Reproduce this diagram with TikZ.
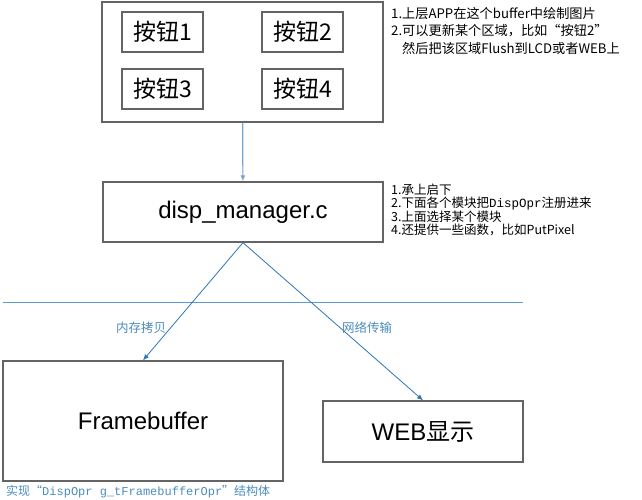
\documentclass[tikz,border=0pt]{standalone}
\usepackage{fontspec}
\setmainfont{Liberation Sans}
\setmonofont{Liberation Mono}
\newfontfamily\cjk{Noto Sans CJK SC}
\usetikzlibrary{arrows.meta,positioning}
\definecolor{boxgray}{RGB}{100,100,100}
\definecolor{linkblue}{RGB}{46,117,182}
\definecolor{toplink}{RGB}{120,165,205}
\definecolor{ruleblue}{RGB}{91,155,213}
\definecolor{labelblue}{RGB}{75,140,190}
\begin{document}
\begin{tikzpicture}[x=1pt,y=-1pt,
  box/.style={draw=boxgray, line width=1.3pt, inner sep=0pt, font=\fontsize{24}{26}\selectfont},
  btn/.style={box, minimum width=81pt, minimum height=40pt, font=\cjk\fontsize{23}{25}\selectfont},
  link/.style={draw=linkblue, line width=0.8pt, -{Latex[length=6pt,width=5pt]}},
  note/.style={anchor=north west, align=left, inner sep=0pt, font=\cjk\fontsize{12.5}{12.8}\selectfont},
  lbl/.style={text=labelblue, inner sep=0pt, font=\cjk\fontsize{12.5}{14}\selectfont}]
\useasboundingbox (0,0) rectangle (642,499);
% app buffer with its buttons
\node[box, minimum width=281pt, minimum height=120pt] (app) at (242.5,62){};
\node[btn] (btn1) at (162.5,32){按钮1};
\node[btn] (btn2) at (302.5,32){按钮2};
\node[btn] (btn3) at (162.5,89){按钮3};
\node[btn] (btn4) at (302.5,89){按钮4};
\node[note, font=\cjk\fontsize{13.2}{17.5}\selectfont] (appnote) at (391,7){1.上层APP在这个buffer中绘制图片\\2.可以更新某个区域，比如“按钮2”\\\phantom{2.}然后把该区域Flush到LCD或者WEB上};
% manager
\node[box, minimum width=280pt, minimum height=60pt] (disp) at (243,212){disp\_manager.c};
\node[note] (dispnote) at (391,184){1.承上启下\\2.下面各个模块把{\ttfamily DispOpr}注册进来\\3.上面选择某个模块\\4.还提供一些函数，比如PutPixel};
% devices
\node[box, minimum width=280pt, minimum height=120pt] (fb) at (143,421){Framebuffer};
\node[box, minimum width=200pt, minimum height=61pt] (web) at (423,431.5){WEB{\cjk 显示}};
\node[lbl, font=\cjk\fontsize{12}{14}\selectfont, anchor=west] (fbnote) at (6,492){实现“{\ttfamily DispOpr g\_tFramebufferOpr}”结构体};
% separator
\coordinate (sepl) at (3,302);
\coordinate (sepr) at (523,302);
\draw[ruleblue, line width=0.9pt] (sepl) -- (sepr);
\draw[link, draw=toplink, line width=1.2pt] (app) -- (disp);
\draw[link] (disp.south) -- (fb.north);
\draw[link] (disp.south) -- (web.north);
\node[lbl] (copy) at (141,328){内存拷贝};
\node[lbl] (net) at (367,328){网络传输};
\end{tikzpicture}
\end{document}
